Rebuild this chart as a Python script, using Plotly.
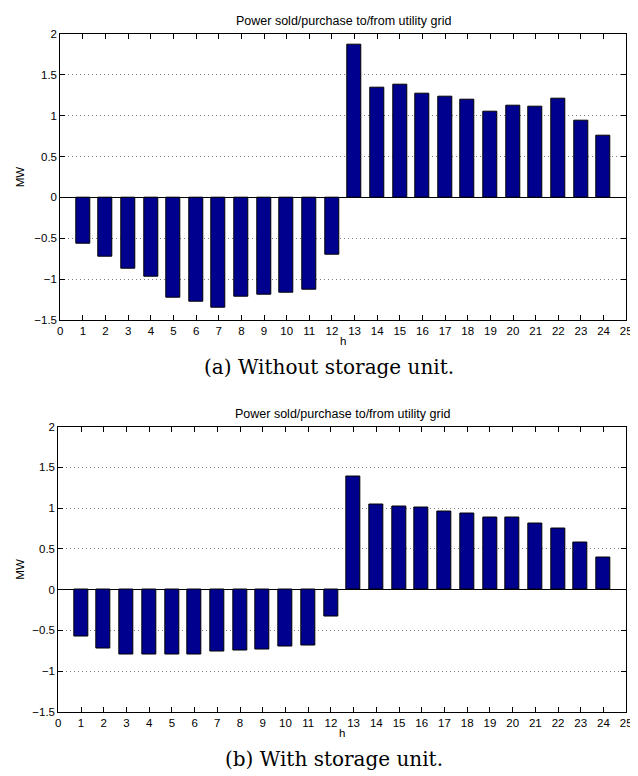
import plotly.graph_objects as go

hours = list(range(1, 25))
grid_without_storage = [-0.57, -0.73, -0.87, -0.97, -1.22, -1.28, -1.35, -1.21, -1.19, -1.17, -1.13, -0.70,
                        1.87, 1.34, 1.38, 1.27, 1.23, 1.19, 1.05, 1.12, 1.11, 1.21, 0.94, 0.76]
grid_with_storage = [-0.57, -0.72, -0.79, -0.79, -0.80, -0.79, -0.76, -0.74, -0.73, -0.70, -0.68, -0.33,
                     1.39, 1.05, 1.02, 1.01, 0.96, 0.93, 0.89, 0.88, 0.81, 0.75, 0.58, 0.40]
x_ticks = list(range(0, 26))
y_ticks = [-1.5, -1, -0.5, 0, 0.5, 1, 1.5, 2]
y_tick_text = ["\u22121.5", "\u22121", "\u22120.5", "0", "0.5", "1", "1.5", "2"]
title_text = "Power sold/purchase to/from utility grid"
captions = ["(a) Without storage unit.", "(b) With storage unit."]

# The page body has an 8px default margin; positions below are window pixels.
OFF = 8
W, H = 638, 776
BAR_COLOR = "#00008F"
SANS = "Liberation Sans, Arial, sans-serif"
SERIF = "DejaVu Serif, Liberation Serif, serif"

fig = go.Figure()

# panel geometry in window pixels (left, right, top, bottom)
panels = [(58, 632, 28, 319), (56, 632, 427, 717)]
caption_pos = [(331, 367), (336, 765)]
series = [grid_without_storage, grid_with_storage]


def px_x(v):
    return (v - OFF) / W


def px_y(v):
    return 1 - (v - OFF) / H


for i, (vals, (l, r, t, b)) in enumerate(zip(series, panels)):
    xa = "x" if i == 0 else "x2"
    ya = "y" if i == 0 else "y2"
    fig.add_trace(go.Bar(x=hours, y=vals, xaxis=xa, yaxis=ya, width=0.62,
                         marker=dict(color=BAR_COLOR, line=dict(color="black", width=1)),
                         showlegend=False))
    axis_common = dict(showline=True, linecolor="black", linewidth=1, mirror="ticks",
                       ticks="inside", ticklen=5, tickcolor="black", ticklabeloverflow="allow",
                       tickfont=dict(family=SANS, size=11.5, color="black"))
    xkey = "xaxis" if i == 0 else "xaxis2"
    ykey = "yaxis" if i == 0 else "yaxis2"
    fig.update_layout(**{
        xkey: dict(domain=[px_x(l), px_x(r)], range=[0, 25], tickvals=x_ticks, showgrid=False,
                   zeroline=False, anchor=ya, **axis_common),
        ykey: dict(domain=[px_y(b), px_y(t)], range=[-1.5, 2], tickvals=y_ticks, ticktext=y_tick_text,
                   showgrid=True, gridcolor="#808080", griddash="1px,3px", gridwidth=1,
                   zeroline=True, zerolinecolor="black", zerolinewidth=1,
                   anchor=xa, **axis_common),
    })
    cx = px_x((l + r) / 2)
    # title
    fig.add_annotation(text=title_text, x=cx, y=px_y(t - 13), xref="paper", yref="paper",
                       xanchor="center", yanchor="middle", showarrow=False,
                       font=dict(family=SANS, size=12.5, color="black"))
    # x label
    fig.add_annotation(text="h", x=cx, y=px_y(b + 21), xref="paper", yref="paper",
                       xanchor="center", yanchor="middle", showarrow=False,
                       font=dict(family=SANS, size=11.5, color="black"))
    # y label
    fig.add_annotation(text="MW", x=px_x(17.5), y=px_y((t + b) / 2), xref="paper", yref="paper",
                       xanchor="center", yanchor="middle", showarrow=False, textangle=-90,
                       font=dict(family=SANS, size=11.5, color="black"))
    # caption
    cxp, cyp = caption_pos[i]
    fig.add_annotation(text=captions[i], x=px_x(cxp), y=px_y(cyp), xref="paper", yref="paper",
                       xanchor="center", yanchor="middle", showarrow=False,
                       font=dict(family=SERIF, size=20, color="black"))

fig.update_layout(width=W, height=H, margin=dict(l=0, r=0, t=0, b=0),
                  paper_bgcolor="white", plot_bgcolor="white", bargap=0)

fig.write_html("out.html")
